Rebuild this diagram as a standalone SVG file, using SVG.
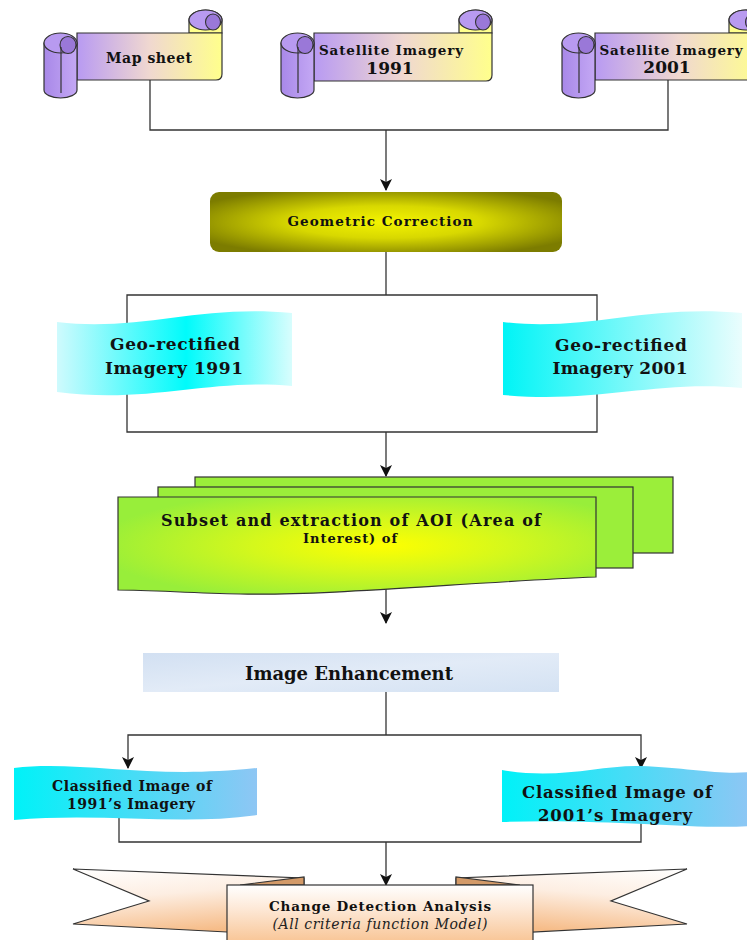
<svg xmlns="http://www.w3.org/2000/svg" width="747" height="940" viewBox="0 0 747 940">
<defs>
<style>
.t{font-family:"DejaVu Serif","Liberation Serif",serif;font-weight:bold;fill:#111;text-anchor:middle}
.ln{fill:none;stroke:#333;stroke-width:1.3}
.ol{stroke:#333;stroke-width:1.2}
.curl{fill:#9a78d8;stroke:#333;stroke-width:1.1}
.rolltop{fill:#b89af0;stroke:#333;stroke-width:1.2}
</style>
<linearGradient id="scrollG" x1="0" y1="0" x2="1" y2="0">
<stop offset="0" stop-color="#b89af2"/><stop offset="0.5" stop-color="#f0d8d0"/><stop offset="1" stop-color="#ffff8c"/>
</linearGradient>
<linearGradient id="rollG" x1="0" y1="0" x2="1" y2="0">
<stop offset="0" stop-color="#a888e8"/><stop offset="1" stop-color="#c4a8f4"/>
</linearGradient>
<radialGradient id="geoG" cx="0.5" cy="0.5" r="0.6">
<stop offset="0" stop-color="#f4f400"/><stop offset="0.45" stop-color="#d8d800"/><stop offset="1" stop-color="#7c7c00"/>
</radialGradient>
<linearGradient id="cyan1" x1="0" y1="0" x2="1" y2="0">
<stop offset="0" stop-color="#cffafd"/><stop offset="0.55" stop-color="#00fbfb"/><stop offset="1" stop-color="#d8fdfd"/>
</linearGradient>
<linearGradient id="cyan2" x1="0" y1="0" x2="1" y2="0">
<stop offset="0" stop-color="#00f4f6"/><stop offset="1" stop-color="#eafdfd"/>
</linearGradient>
<radialGradient id="greenG" cx="0.55" cy="0.5" r="0.6">
<stop offset="0" stop-color="#ffff00"/><stop offset="0.45" stop-color="#d4f81c"/><stop offset="1" stop-color="#98ee3a"/>
</radialGradient>
<linearGradient id="enhG" x1="0" y1="0" x2="1" y2="1">
<stop offset="0" stop-color="#d2e0f2"/><stop offset="0.5" stop-color="#e2ebf7"/><stop offset="1" stop-color="#d4e2f3"/>
</linearGradient>
<linearGradient id="clsG" x1="0" y1="0" x2="1" y2="0">
<stop offset="0" stop-color="#00f2f8"/><stop offset="1" stop-color="#8ec6f4"/>
</linearGradient>
<linearGradient id="ribG" x1="0" y1="0" x2="0.3" y2="1">
<stop offset="0" stop-color="#ffffff"/><stop offset="0.45" stop-color="#fdeee2"/><stop offset="1" stop-color="#f6bc88"/>
</linearGradient>
<linearGradient id="ribG2" x1="1" y1="0" x2="0.7" y2="1">
<stop offset="0" stop-color="#ffffff"/><stop offset="0.45" stop-color="#fdeee2"/><stop offset="1" stop-color="#f6bc88"/>
</linearGradient>
<linearGradient id="boxG" x1="0" y1="0" x2="0" y2="1">
<stop offset="0" stop-color="#ffffff"/><stop offset="0.4" stop-color="#fde8d6"/><stop offset="1" stop-color="#f8c290"/>
</linearGradient>
<marker id="ah" viewBox="0 0 12 12" refX="11" refY="6" markerWidth="12" markerHeight="12" markerUnits="userSpaceOnUse" orient="auto">
<path d="M0,0 L12,6 L0,12 L3,6 Z" fill="#111"/>
</marker>
</defs>
<rect width="747" height="940" fill="#fff"/>

<g id="connectors">
<path class="ln" d="M150,80 V130 H668 V80"/>
<path class="ln" d="M386,130 V190" marker-end="url(#ah)"/>
<path class="ln" d="M386,252 V295"/>
<path class="ln" d="M127,295 H597 V432 H127 Z"/>
<path class="ln" d="M386,432 V476" marker-end="url(#ah)"/>
<path class="ln" d="M386,585 V623" marker-end="url(#ah)"/>
<path class="ln" d="M386,692 V735"/>
<path class="ln" d="M386,735 H128 V768" marker-end="url(#ah)"/>
<path class="ln" d="M386,735 H641 V768" marker-end="url(#ah)"/>
<path class="ln" d="M119,815 V842 H641 V815"/>
<path class="ln" d="M386,842 V885" marker-end="url(#ah)"/>
</g>

<g id="map-sheet">
<path d="M189,33 V20 A16.5 10 0 0 1 222,20 V33 Z" fill="#ffff8c" class="ol"/>
<ellipse class="rolltop" cx="205.5" cy="20" rx="16.5" ry="10"/>
<ellipse class="curl" cx="213" cy="22" rx="7.5" ry="8"/>
<path d="M77,33 H222 V74 Q222,80 216,80 H77 Z" fill="url(#scrollG)" class="ol"/>
<path d="M44,43 V90 A16.5 8 0 0 0 77,90 V43 Z" fill="url(#rollG)" class="ol"/>
<ellipse class="rolltop" cx="60.5" cy="43" rx="16.5" ry="10"/>
<ellipse class="curl" cx="68" cy="45" rx="8" ry="8.5"/>
<path d="M61,47 V93" class="ol" fill="none"/>
<text class="t" x="149" y="63" font-size="14" textLength="86" lengthAdjust="spacing">Map sheet</text>
</g>

<g id="sat-1991">
<path d="M459,33 V20 A16.5 10 0 0 1 492,20 V33 Z" fill="#ffff8c" class="ol"/>
<ellipse class="rolltop" cx="475.5" cy="20" rx="16.5" ry="10"/>
<ellipse class="curl" cx="483" cy="22" rx="7.5" ry="8"/>
<path d="M314,33 H492 V75 Q492,81 486,81 H314 Z" fill="url(#scrollG)" class="ol"/>
<path d="M281,43 V90 A16.5 8 0 0 0 314,90 V43 Z" fill="url(#rollG)" class="ol"/>
<ellipse class="rolltop" cx="297.5" cy="43" rx="16.5" ry="10"/>
<ellipse class="curl" cx="305" cy="45" rx="8" ry="8.5"/>
<path d="M298,47 V93" class="ol" fill="none"/>
<text class="t" x="391" y="55" font-size="13.5" textLength="144" lengthAdjust="spacing">Satellite Imagery</text>
<text class="t" x="390" y="74" font-size="17">1991</text>
</g>

<g id="sat-2001">
<path d="M729,33 V20 A16.5 10 0 0 1 762,20 V33 Z" fill="#ffff8c" class="ol"/>
<ellipse class="rolltop" cx="745.5" cy="20" rx="16.5" ry="10"/>
<ellipse class="curl" cx="753" cy="22" rx="7.5" ry="8"/>
<path d="M595,33 H762 V74 Q762,80 756,80 H595 Z" fill="url(#scrollG)" class="ol"/>
<path d="M562,43 V90 A16.5 8 0 0 0 595,90 V43 Z" fill="url(#rollG)" class="ol"/>
<ellipse class="rolltop" cx="578.5" cy="43" rx="16.5" ry="10"/>
<ellipse class="curl" cx="586" cy="45" rx="8" ry="8.5"/>
<path d="M579,47 V93" class="ol" fill="none"/>
<text class="t" x="671" y="55" font-size="13.5" textLength="143" lengthAdjust="spacing">Satellite Imagery</text>
<text class="t" x="667" y="73" font-size="17">2001</text>
</g>

<g id="geometric-correction">
<rect x="210" y="192" width="352" height="60" rx="9" fill="url(#geoG)"/>
<text class="t" x="380" y="226" font-size="13.5" textLength="185" lengthAdjust="spacing">Geometric Correction</text>
</g>

<g id="geo-1991">
<path d="M57,322 C140,332 200,304 292,313 V386 C210,378 150,404 57,392 Z" fill="url(#cyan1)"/>
<text class="t" x="175" y="350" font-size="17" textLength="130" lengthAdjust="spacing">Geo-rectified</text>
<text class="t" x="174" y="374" font-size="17" textLength="138" lengthAdjust="spacing">Imagery 1991</text>
</g>

<g id="geo-2001">
<path d="M503,322 C586,332 646,304 742,313 V388 C656,380 596,404 503,395 Z" fill="url(#cyan2)"/>
<text class="t" x="621" y="351" font-size="17" textLength="132" lengthAdjust="spacing">Geo-rectified</text>
<text class="t" x="620" y="374" font-size="17" textLength="135" lengthAdjust="spacing">Imagery 2001</text>
</g>

<g id="subset-aoi">
<rect x="195" y="477" width="478" height="76" fill="#9bee3a" class="ol"/>
<rect x="158" y="487" width="475" height="81" fill="#9bee3a" class="ol"/>
<path d="M118,497 H596 V577 C470,582 330,596 240,594 C190,593 150,590 118,590 Z" fill="url(#greenG)" class="ol"/>
<text class="t" x="351" y="526" font-size="16" textLength="380" lengthAdjust="spacing">Subset and extraction of AOI (Area of</text>
<text class="t" x="350" y="543" font-size="13" textLength="94" lengthAdjust="spacing">Interest) of</text>
</g>

<g id="image-enhancement">
<rect x="143" y="653" width="416" height="39" fill="url(#enhG)"/>
<text class="t" x="349" y="680" font-size="18" textLength="208" lengthAdjust="spacing">Image Enhancement</text>
</g>

<g id="classified-1991">
<path d="M14,768 C80,760 150,780 257,768 V815 C180,826 100,812 14,820 Z" fill="url(#clsG)"/>
<text class="t" x="132" y="791" font-size="14" textLength="160" lengthAdjust="spacing">Classified Image of</text>
<text class="t" x="131" y="809" font-size="14" textLength="128" lengthAdjust="spacing">1991’s Imagery</text>
</g>

<g id="classified-2001">
<path d="M502,770 C560,780 600,765 640,766 C690,768 720,775 750,772 V826 C700,830 600,818 502,822 Z" fill="url(#clsG)"/>
<text class="t" x="617" y="798" font-size="16.5" textLength="190" lengthAdjust="spacing">Classified Image of</text>
<text class="t" x="615" y="821" font-size="16.5" textLength="154" lengthAdjust="spacing">2001’s Imagery</text>
</g>

<g id="change-detection">
<polygon points="73,869 304,878 304,936 73,924 149,901" fill="url(#ribG)" class="ol"/>
<polygon points="687,869 456,878 456,936 687,924 611,901" fill="url(#ribG2)" class="ol"/>
<polygon points="240,885 304,877 304,885" fill="#d39a68" class="ol"/>
<polygon points="520,885 456,877 456,885" fill="#d39a68" class="ol"/>
<rect x="227" y="885" width="306" height="60" fill="url(#boxG)" class="ol"/>
<text class="t" x="380" y="911" font-size="13.5" textLength="222" lengthAdjust="spacing">Change Detection Analysis</text>
<text x="380" y="929" font-size="14" font-style="italic" font-family="DejaVu Serif, Liberation Serif, serif" text-anchor="middle" fill="#222" textLength="215" lengthAdjust="spacing">(All criteria function Model)</text>
</g>
</svg>
